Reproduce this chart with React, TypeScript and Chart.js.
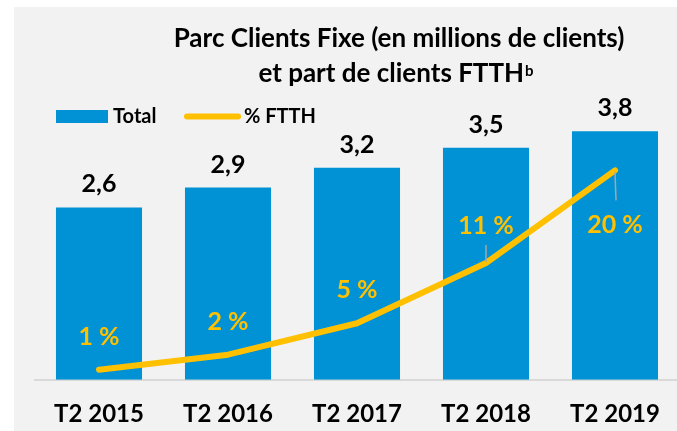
import React, { useEffect, useRef } from "react";
import { Chart, registerables } from "chart.js";

Chart.register(...registerables);

const categories = ["T2 2015", "T2 2016", "T2 2017", "T2 2018", "T2 2019"];
const totalClients = [2.6, 2.9, 3.2, 3.5, 3.75];
const ftthShare = [0.96, 2.4, 5.4, 11.15, 20];

const titleLine1 = "Parc Clients Fixe (en millions de clients)";
const titleLine2 = "et part de clients FTTH";
const titleSup = "b";
const legendTotal = "Total";
const legendFtth = "% FTTH";

const BLUE = "#0092d5";
const YELLOW = "#ffc000";
const FONT = "Lato, 'Open Sans', 'Liberation Sans', sans-serif";

// label placement style for each % label (styling, not data)
const pctPlacement = ["above", "above", "above", "aboveLeader", "belowLeader"];

const fmtTotal = (v: number) => v.toFixed(1).replace(".", ",");
const fmtPct = (v: number) => Math.round(v) + " %";

const decorPlugin = {
  id: "decor",
  beforeDraw(chart: any) {
    const ctx = chart.ctx;
    ctx.save();
    ctx.fillStyle = "#ffffff";
    ctx.fillRect(0, 0, chart.width, chart.height);
    ctx.fillStyle = "#f2f2f2";
    ctx.fillRect(14, 7, chart.width - 14, chart.height - 7);

    // title
    ctx.fillStyle = "#000000";
    ctx.font = `bold 26px ${FONT}`;
    ctx.textAlign = "center";
    ctx.textBaseline = "alphabetic";
    ctx.fillText(titleLine1, 399, 47);
    ctx.textAlign = "left";
    const w2 = ctx.measureText(titleLine2).width;
    ctx.font = `bold 15px ${FONT}`;
    const ws = ctx.measureText(titleSup).width;
    const start = 396 - (w2 + ws + 1) / 2;
    ctx.font = `bold 26px ${FONT}`;
    ctx.fillText(titleLine2, start, 82);
    ctx.font = `bold 15px ${FONT}`;
    ctx.fillText(titleSup, start + w2 + 1, 76);

    // legend
    ctx.fillStyle = BLUE;
    ctx.fillRect(56, 110, 52, 13);
    ctx.fillStyle = "#000000";
    ctx.font = `bold 20px ${FONT}`;
    ctx.fillText(legendTotal, 113, 123);
    ctx.strokeStyle = YELLOW;
    ctx.lineWidth = 6;
    ctx.lineCap = "round";
    ctx.beginPath();
    ctx.moveTo(187, 116.5);
    ctx.lineTo(238, 116.5);
    ctx.stroke();
    ctx.fillText(legendFtth, 244, 123);
    ctx.restore();
  },
  afterDatasetsDraw(chart: any) {
    const ctx = chart.ctx;
    ctx.save();
    const barMeta = chart.getDatasetMeta(0);
    ctx.fillStyle = "#000000";
    ctx.font = `bold 25px ${FONT}`;
    ctx.textAlign = "center";
    ctx.textBaseline = "alphabetic";
    barMeta.data.forEach((bar: any, i: number) => {
      ctx.fillText(fmtTotal(totalClients[i]), bar.x, bar.y - 15);
    });

    const lineMeta = chart.getDatasetMeta(1);
    lineMeta.data.forEach((pt: any, i: number) => {
      const place = pctPlacement[i];
      let baseY = pt.y - 25;
      ctx.strokeStyle = "#a6a6a6";
      ctx.lineWidth = 1.5;
      if (place === "aboveLeader") {
        baseY = pt.y - 29;
        ctx.beginPath();
        ctx.moveTo(pt.x, pt.y - 18);
        ctx.lineTo(pt.x, pt.y - 1);
        ctx.stroke();
      } else if (place === "belowLeader") {
        baseY = pt.y + 63;
        ctx.beginPath();
        ctx.moveTo(pt.x, pt.y + 2);
        ctx.lineTo(pt.x + 1, pt.y + 30);
        ctx.stroke();
      }
      ctx.fillStyle = YELLOW;
      ctx.font = `bold 25px ${FONT}`;
      ctx.fillText(fmtPct(ftthShare[i]), pt.x, baseY);
    });
    ctx.restore();
  },
};

export default function App() {
  const ref = useRef<HTMLCanvasElement>(null);
  useEffect(() => {
    if (!ref.current) return;
    const chart = new Chart(ref.current, {
      type: "bar",
      data: {
        labels: categories,
        datasets: [
          {
            type: "bar",
            label: legendTotal,
            data: totalClients,
            backgroundColor: BLUE,
            borderWidth: 0,
            yAxisID: "y",
            categoryPercentage: 1,
            barPercentage: 0.667,
            order: 1,
          },
          {
            type: "line",
            label: legendFtth,
            data: ftthShare,
            borderColor: YELLOW,
            borderWidth: 6,
            borderCapStyle: "round",
            borderJoinStyle: "round",
            pointRadius: 0,
            tension: 0,
            yAxisID: "y1",
            order: 0,
          },
        ],
      },
      options: {
        responsive: false,
        animation: false,
        devicePixelRatio: 1,
        layout: { padding: { left: 34.5, right: 10.5, top: 118, bottom: 5.4 } },
        plugins: {
          legend: { display: false },
          title: { display: false },
          tooltip: { enabled: false },
        },
        scales: {
          x: {
            type: "category",
            grid: { display: false, drawTicks: false },
            border: { display: true, color: "#d9d9d9", width: 2 },
            ticks: {
              color: "#000000",
              font: { family: FONT, size: 24, weight: "bold" },
              padding: 20,
              maxRotation: 0,
            },
          },
          y: { display: false, min: 0, max: 3.95 },
          y1: { display: false, min: 0, max: 25, position: "right" },
        },
      },
      plugins: [decorPlugin],
    } as any);
    return () => chart.destroy();
  }, []);
  return (
    <div
      style={{
        position: "absolute",
        left: 0,
        top: 0,
        width: 677,
        height: 431,
        overflow: "hidden",
        background: "#ffffff",
      }}
    >
      <canvas ref={ref} width={690} height={454} style={{ display: "block" }} />
    </div>
  );
}
